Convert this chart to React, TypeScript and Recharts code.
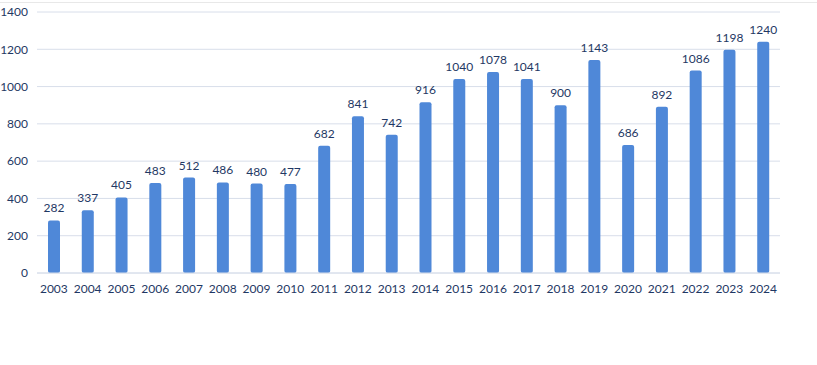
import { BarChart, Bar, XAxis, YAxis, CartesianGrid, LabelList } from 'recharts'

const years = ['2003', '2004', '2005', '2006', '2007', '2008', '2009', '2010', '2011', '2012', '2013', '2014', '2015', '2016', '2017', '2018', '2019', '2020', '2021', '2022', '2023', '2024']
const counts = [282, 337, 405, 483, 512, 486, 480, 477, 682, 841, 742, 916, 1040, 1078, 1041, 900, 1143, 686, 892, 1086, 1198, 1240]
const yTicks = [0, 200, 400, 600, 800, 1000, 1200, 1400]

const data = years.map((year, i) => ({ year, value: counts[i] }))

const textColor = '#1f3864'
const font = 'Lato, Carlito, "Open Sans", sans-serif'

export default function App() {
  return (
    <div style={{ position: 'absolute', left: 0, top: 0, width: 817, height: 365, background: '#fff', fontFamily: font }}>
      {/* faint frame line along the top edge */}
      <div style={{ position: 'absolute', left: 0, top: 2, width: 817, height: 1, background: '#e8e8e8' }} />
      <BarChart width={817} height={365} data={data} margin={{ top: 12, right: 37, bottom: 62, left: 0 }} barCategoryGap={0}>
        <defs>
          <filter id="soft" x="-20%" y="-5%" width="140%" height="110%">
            <feGaussianBlur stdDeviation="0.7" />
          </filter>
        </defs>
        <CartesianGrid vertical={false} stroke="#d8deea" />
        <XAxis
          dataKey="year"
          axisLine={{ stroke: '#d8deea' }}
          tickLine={false}
          tickSize={0}
          tickMargin={11}
          interval={0}
          height={30}
          tick={{ fill: textColor, fontSize: 12, fontFamily: font }}
        />
        <YAxis
          domain={[0, 1400]}
          ticks={yTicks}
          width={37}
          axisLine={false}
          tickLine={false}
          tickSize={0}
          tickMargin={9}
          tick={{ fill: textColor, fontSize: 12, fontFamily: font }}
        />
        <Bar dataKey="value" fill="#4f88d8" barSize={12} radius={2} filter="url(#soft)" isAnimationActive={false}>
          <LabelList dataKey="value" position="top" offset={8} fill={textColor} fontSize={12} fontFamily={font} />
        </Bar>
      </BarChart>
    </div>
  )
}
